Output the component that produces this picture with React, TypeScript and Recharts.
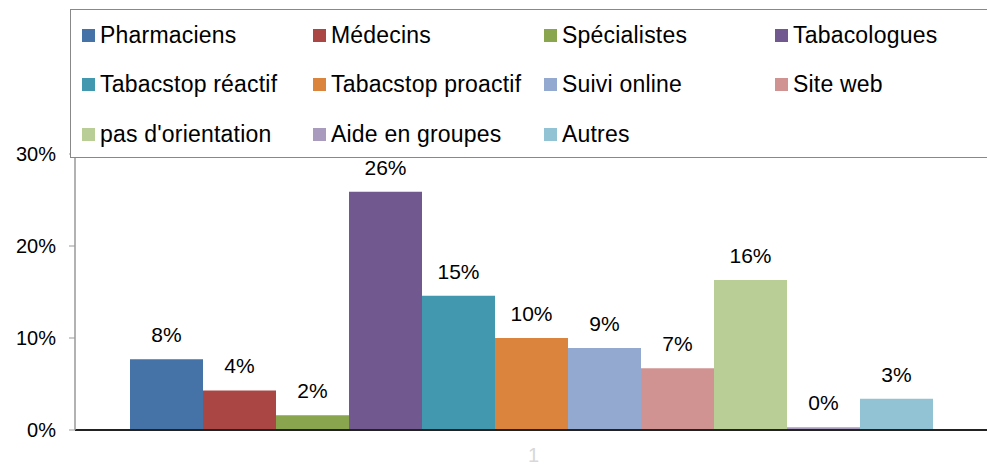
import React from 'react';
import { BarChart, Bar, XAxis, YAxis, Legend, LabelList } from 'recharts';

const categories = ['1'];

const seriesNames = [
  'Pharmaciens',
  'Médecins',
  'Spécialistes',
  'Tabacologues',
  'Tabacstop réactif',
  'Tabacstop proactif',
  'Suivi online',
  'Site web',
  "pas d'orientation",
  'Aide en groupes',
  'Autres'
];

// percent values, one per series
const seriesValues = [7.7, 4.3, 1.6, 25.9, 14.6, 10.0, 8.9, 6.7, 16.3, 0.3, 3.4];

const seriesColors = [
  '#4572A7',
  '#AA4643',
  '#89A54E',
  '#71588F',
  '#4198AF',
  '#DB843D',
  '#93A9CF',
  '#D19392',
  '#B9CD96',
  '#A99BBD',
  '#92C3D4'
];

const yTicks = [0, 10, 20, 30];

const data = categories.map((name) => {
  const row: Record<string, string | number> = { name };
  seriesNames.forEach((s, i) => {
    row[s] = seriesValues[i];
  });
  return row;
});

const FONT = '"Liberation Sans", Arial, sans-serif';

const renderLegend = (props: any) => {
  // keep the series order, not alphabetical
  const payload = [...(props.payload || [])].sort(
    (a: any, b: any) => seriesNames.indexOf(a.value) - seriesNames.indexOf(b.value)
  );
  return (
    <div
      style={{
        position: 'relative',
        width: 940,
        height: 147,
        border: '1px solid #888',
        background: '#fff',
        fontFamily: FONT,
        fontSize: 23,
        letterSpacing: 0.2,
        color: '#000'
      }}
    >
      {payload.map((entry: any, i: number) => {
        const col = i % 4;
        const row = Math.floor(i / 4);
        return (
          <div
            key={entry.value}
            style={{
              position: 'absolute',
              left: 11 + col * 231,
              top: 11 + row * 49.5,
              height: 28,
              display: 'flex',
              alignItems: 'center',
              whiteSpace: 'nowrap'
            }}
          >
            <span
              style={{
                display: 'inline-block',
                width: 13,
                height: 13,
                background: entry.color,
                marginRight: 5
              }}
            />
            {entry.value}
          </div>
        );
      })}
    </div>
  );
};

export default function App() {
  return (
    <div style={{ width: 987, height: 468, overflow: 'hidden', background: '#fff' }}>
      <style>{`body{margin:0;}`}</style>
      <BarChart
        width={1000}
        height={468}
        data={data}
        margin={{ top: 154, right: 8, bottom: 0, left: 0 }}
        barGap={0}
        barCategoryGap={55}
      >
        <XAxis
          dataKey="name"
          height={38}
          axisLine={{ stroke: '#222', strokeWidth: 2 }}
          tickLine={false}
          tickSize={8}
          tickMargin={10}
          tick={{ fill: '#d8d8d8', fontSize: 20, fontFamily: FONT }}
        />
        <YAxis
          width={75}
          domain={[0, 30]}
          ticks={yTicks}
          interval={0}
          tickFormatter={(v: number) => `${v}%`}
          axisLine={{ stroke: '#999', strokeWidth: 1.5 }}
          tickLine={{ stroke: '#999' }}
          tickSize={6}
          tickMargin={13}
          tick={{ fill: '#000', fontSize: 20, fontFamily: FONT }}
        />
        <Legend
          layout="horizontal"
          verticalAlign="middle"
          align="center"
          content={renderLegend}
          wrapperStyle={{ top: 9, left: 70, width: 940, height: 149 }}
        />
        {seriesNames.map((s, i) => (
          <Bar key={s} dataKey={s} fill={seriesColors[i]} isAnimationActive={false}>
            <LabelList
              dataKey={s}
              position="top"
              offset={17}
              formatter={(v: any) => `${Math.round(Number(v))}%`}
              style={{ fill: '#000', fontSize: 21, fontFamily: FONT }}
            />
          </Bar>
        ))}
      </BarChart>
    </div>
  );
}
